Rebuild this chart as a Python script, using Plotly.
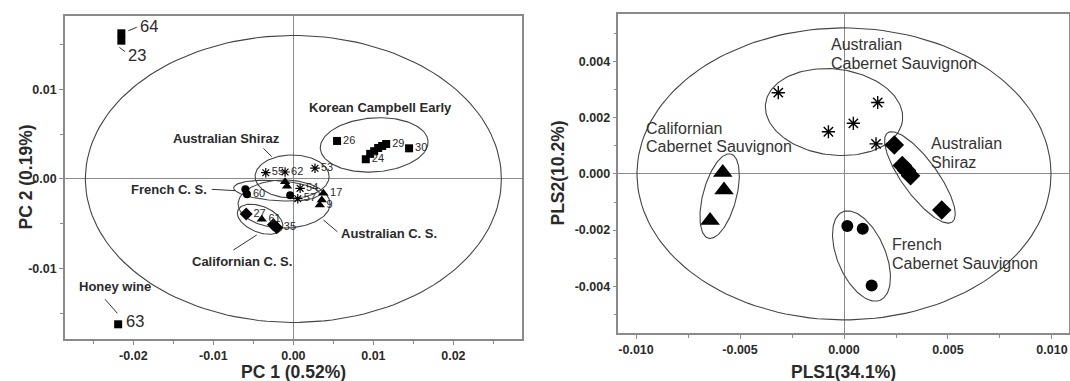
import numpy as np
import plotly.graph_objects as go

W, H = 1070, 381
FONT = "Arial, 'Liberation Sans', sans-serif"
TXT = "#2a2a2a"
AX = "#8a8a8a"

# ---------------- axes geometry ----------------
LX_DOM = [0.0607, 0.4879]; LY_DOM = [0.1102, 0.958]
LX_RANGE = [-0.02855, 0.02858]; LY_RANGE = [-0.01784, 0.01817]
RX_DOM = [0.5779, 0.9991]; RY_DOM = [0.126, 0.9633]
RX_RANGE = [-0.01085, 0.01082]; RY_RANGE = [-0.00566, 0.00569]

# ---------------- tick values ----------------
l_xticks = [-0.02, -0.01, 0.0, 0.01, 0.02]
l_xticktext = ["-0.02", "-0.01", "0.00", "0.01", "0.02"]
l_xminor = [-0.025, -0.015, -0.005, 0.005, 0.015, 0.025]
l_yticks = [-0.01, 0.0, 0.01]
l_yticktext = ["-0.01", "0.00", "0.01"]
l_yminor = [-0.015, -0.005, 0.005, 0.015]
r_xticks = [-0.010, -0.005, 0.0, 0.005, 0.010]
r_xticktext = ["-0.010", "-0.005", "0.000", "0.005", "0.010"]
r_xminor = [-0.0075, -0.0025, 0.0025, 0.0075]
r_yticks = [-0.004, -0.002, 0.0, 0.002, 0.004]
r_yticktext = ["-0.004", "-0.002", "0.000", "0.002", "0.004"]
r_yminor = [-0.005, -0.003, -0.001, 0.001, 0.003, 0.005]

# ---------------- left panel (PCA) data ----------------
korean_x = [0.00546, 0.00905, 0.0096, 0.0101, 0.0106, 0.0111, 0.0116, 0.01446]
korean_y = [0.00424, 0.0022, 0.0028, 0.0031, 0.00346, 0.00368, 0.0039, 0.00342]
korean_lab = ["26", "24", "", "", "", "", "29", "30"]

honey_x = [-0.0215, -0.0215, -0.0219]
honey_y = [0.01624, 0.01542, -0.0162]

shiraz_l_x = [-0.00345, -0.00104, 0.0027, 0.00084, 0.00055]
shiraz_l_y = [0.0007, 0.00078, 0.0012, -0.00104, -0.0022]
shiraz_l_lab = ["55", "62", "53", "54", "57"]

french_l_x = [-0.0060, -0.0058, -0.0004]
french_l_y = [-0.00115, -0.0017, -0.0018]
french_l_lab = ["", "60", ""]

auscs_l_x = [-0.00104, -0.0008, 0.00375, 0.00355, 0.0033]
auscs_l_y = [-0.0003, -0.0008, -0.0016, -0.00234, -0.0029]
auscs_l_lab = ["", "", "17", "", "9"]

cal_l_x = [-0.0059, -0.0025, -0.0021]
cal_l_y = [-0.0039, -0.0051, -0.0054]
cal_l_lab = ["27", "", "35"]
cal_tri_x = [-0.00395]
cal_tri_y = [-0.0045]
cal_tri_lab = ["61"]

# ---------------- right panel (PLS) data ----------------
auscs_r_x = [-0.00316, 0.00162, 0.00045, -0.00075, 0.00154]
auscs_r_y = [0.00289, 0.00254, 0.0018, 0.0015, 0.00107]
shiraz_r_x = [0.00242, 0.0028, 0.00301, 0.0032, 0.0047]
shiraz_r_y = [0.00103, 0.0003, 0.00012, -0.00007, -0.00128]
cal_r_x = [-0.00583, -0.00577, -0.00644]
cal_r_y = [0.00005, -0.00057, -0.00166]
french_r_x = [0.00016, 0.0009, 0.00133]
french_r_y = [-0.00185, -0.00195, -0.00397]


def scales(xdom, xr, ydom, yr):
    sx = (xdom[1] - xdom[0]) * W / (xr[1] - xr[0])
    sy = (ydom[1] - ydom[0]) * H / (yr[1] - yr[0])
    return sx, sy


def ellipse(cx, cy, a_px, b_px, ang, sx, sy, n=160):
    t = np.linspace(0, 2 * np.pi, n)
    th = np.radians(ang)
    px = a_px * np.cos(t) * np.cos(th) - b_px * np.sin(t) * np.sin(th)
    py = a_px * np.cos(t) * np.sin(th) + b_px * np.sin(t) * np.cos(th)
    return cx + px / sx, cy + py / sy


sxL, syL = scales(LX_DOM, LX_RANGE, LY_DOM, LY_RANGE)
sxR, syR = scales(RX_DOM, RX_RANGE, RY_DOM, RY_RANGE)

fig = go.Figure()

# ellipses (center data, semi-axes px, angle deg)
left_ell = [
    (0.0, 0.0, 208, 143.5, 0),
    (0.0101, 0.0038, 54, 27, 4),
    (-0.00016, 0.00028, 37, 21.5, 0),
    (-0.0021, -0.0013, 43, 10, -4),
    (-0.00116, -0.00279, 46, 24, 0),
    (-0.00416, -0.00449, 24, 13, -22),
]
right_ell = [
    (0.0, 0.0, 207, 146, 0),
    (-0.00048, 0.0022, 69, 43, -7),
    (-0.00598, -0.00079, 43.6, 16.7, 75),
    (0.00365, -0.000125, 55, 17.6, -54),
    (0.00084, -0.00292, 48, 24, -67),
]
for (cx, cy, a, b, ang) in left_ell:
    ex, ey = ellipse(cx, cy, a, b, ang, sxL, syL)
    fig.add_trace(go.Scatter(x=ex, y=ey, mode="lines", line=dict(color="#444", width=1.1),
                             hoverinfo="skip", showlegend=False, xaxis="x", yaxis="y"))
for (cx, cy, a, b, ang) in right_ell:
    ex, ey = ellipse(cx, cy, a, b, ang, sxR, syR)
    fig.add_trace(go.Scatter(x=ex, y=ey, mode="lines", line=dict(color="#444", width=1.1),
                             hoverinfo="skip", showlegend=False, xaxis="x2", yaxis="y2"))

lbl_font = dict(family=FONT, size=11, color=TXT)


def pts(x, y, sym, size, lab=None, axis=("x", "y"), line_w=0):
    mk = dict(symbol=sym, size=size, color="black")
    if "open" in sym:
        mk["line"] = dict(color="black", width=line_w)
    else:
        mk["line"] = dict(width=0)
    fig.add_trace(go.Scatter(
        x=x, y=y, mode="markers+text" if lab else "markers", marker=mk,
        text=lab, textposition="middle right", textfont=dict(lbl_font),
        showlegend=False, xaxis=axis[0], yaxis=axis[1], cliponaxis=False))


pts(korean_x, korean_y, "square", 8, korean_lab)
pts(honey_x, honey_y, "square", 8)
pts(shiraz_l_x, shiraz_l_y, "asterisk-open", 8, shiraz_l_lab, line_w=1.2)
pts(french_l_x, french_l_y, "circle", 8, french_l_lab)
pts(auscs_l_x, auscs_l_y, "triangle-up", 9, auscs_l_lab)
pts(cal_l_x, cal_l_y, "diamond", 10, cal_l_lab)
pts(cal_tri_x, cal_tri_y, "triangle-up", 9, cal_tri_lab)

pts(auscs_r_x, auscs_r_y, "asterisk-open", 11, axis=("x2", "y2"), line_w=1.4)
pts(shiraz_r_x, shiraz_r_y, "diamond", 15, axis=("x2", "y2"))
pts(cal_r_x, cal_r_y, "triangle-up", 17, axis=("x2", "y2"))
pts(french_r_x, french_r_y, "circle", 12, axis=("x2", "y2"))

# leader lines (left panel, data coordinates)
leaders = [
    (-0.02063, 0.01653, -0.01958, 0.01691),
    (-0.02175, 0.01468, -0.02104, 0.01419),
    (-0.02354, -0.01341, -0.0220, -0.01497),
    (-0.0102, -0.00115, -0.00729, -0.0013),
    (-0.0075, -0.00792, -0.00458, -0.00624),
    (-0.00375, 0.00342, -0.0027, 0.00249),
    (0.00375, -0.00457, 0.0055, -0.00588),
]
shapes = []
for (x0, y0, x1, y1) in leaders:
    shapes.append(dict(type="line", xref="x", yref="y", x0=x0, y0=y0, x1=x1, y1=y1,
                       line=dict(color="#333", width=1)))

annots = []
bold = dict(family=FONT, size=13, color=TXT, weight="bold")
def ann(x, y, t, font, xa="center", xref="x", yref="y"):
    annots.append(dict(x=x, y=y, text=t, xref=xref, yref=yref, showarrow=False,
                       xanchor=xa, yanchor="middle", font=font, borderpad=0))

ann(0.01084, 0.00795, "Korean Campbell Early", bold)
ann(-0.00154, 0.00446, "Australian Shiraz", bold, xa="right")
ann(-0.01066, -0.00115, "French C. S.", bold, xa="right")
ann(-0.00645, -0.00922, "Californian C. S.", bold)
ann(0.00584, -0.00605, "Australian C. S.", bold, xa="left")
ann(-0.02229, -0.0120, "Honey wine", bold)
big = dict(family=FONT, size=16.5, color=TXT)
ann(-0.01929, 0.01706, "64", big, xa="left")
ann(-0.02083, 0.01382, "23", big, xa="left")
ann(-0.02104, -0.0158, "63", big, xa="left")

reg = dict(family=FONT, size=16, color="#333")
for (x, y, t) in [(-0.00067, 0.00459, "Australian"), (-0.00067, 0.00394, "Cabernet Sauvignon"),
                  (-0.00957, 0.00163, "Californian"), (-0.00957, 0.00097, "Cabernet Sauvignon"),
                  (0.00413, 0.00109, "Australian"), (0.00413, 0.00042, "Shiraz"),
                  (0.00225, -0.0025, "French"), (0.00225, -0.00318, "Cabernet Sauvignon")]:
    ann(x, y, t, reg, xa="left", xref="x2", yref="y2")

title_font = dict(family=FONT, size=17.5, color=TXT, weight="bold")
annots.append(dict(x=(LX_DOM[0] + LX_DOM[1]) / 2, y=1 - 372 / H, xref="paper", yref="paper",
                   text="PC 1 (0.52%)", showarrow=False, font=title_font, xanchor="center", yanchor="middle"))
annots.append(dict(x=(RX_DOM[0] + RX_DOM[1]) / 2, y=1 - 372 / H, xref="paper", yref="paper",
                   text="PLS1(34.1%)", showarrow=False, font=title_font, xanchor="center", yanchor="middle"))
annots.append(dict(x=26 / W, y=(LY_DOM[0] + LY_DOM[1]) / 2, xref="paper", yref="paper",
                   text="PC 2 (0.19%)", showarrow=False, font=title_font, textangle=-90,
                   xanchor="center", yanchor="middle"))
annots.append(dict(x=558 / W, y=(RY_DOM[0] + RY_DOM[1]) / 2, xref="paper", yref="paper",
                   text="PLS2(10.2%)", showarrow=False, font=title_font, textangle=-90,
                   xanchor="center", yanchor="middle"))

tickfont = dict(family=FONT, size=12.5, color=TXT, weight="bold")


def axis(dom, rng, tv, tt, minor, anchor):
    return dict(domain=dom, range=rng, tickmode="array", tickvals=tv, ticktext=tt,
                ticks="outside", ticklen=4, tickcolor=AX, tickwidth=1,
                minor=dict(tickmode="array", tickvals=minor, ticks="outside", ticklen=3,
                           tickcolor=AX, tickwidth=1, showgrid=False),
                showline=True, linecolor=AX, linewidth=1.5, mirror=True,
                showgrid=False, zeroline=True, zerolinecolor=AX, zerolinewidth=1.2,
                tickfont=tickfont, anchor=anchor, fixedrange=True)


fig.update_layout(
    width=W, height=H, margin=dict(l=0, r=0, t=0, b=0),
    paper_bgcolor="white", plot_bgcolor="white", showlegend=False,
    xaxis=axis(LX_DOM, LX_RANGE, l_xticks, l_xticktext, l_xminor, "y"),
    yaxis=axis(LY_DOM, LY_RANGE, l_yticks, l_yticktext, l_yminor, "x"),
    xaxis2=axis(RX_DOM, RX_RANGE, r_xticks, r_xticktext, r_xminor, "y2"),
    yaxis2=axis(RY_DOM, RY_RANGE, r_yticks, r_yticktext, r_yminor, "x2"),
    shapes=shapes, annotations=annots,
)

fig.write_html("out.html")
